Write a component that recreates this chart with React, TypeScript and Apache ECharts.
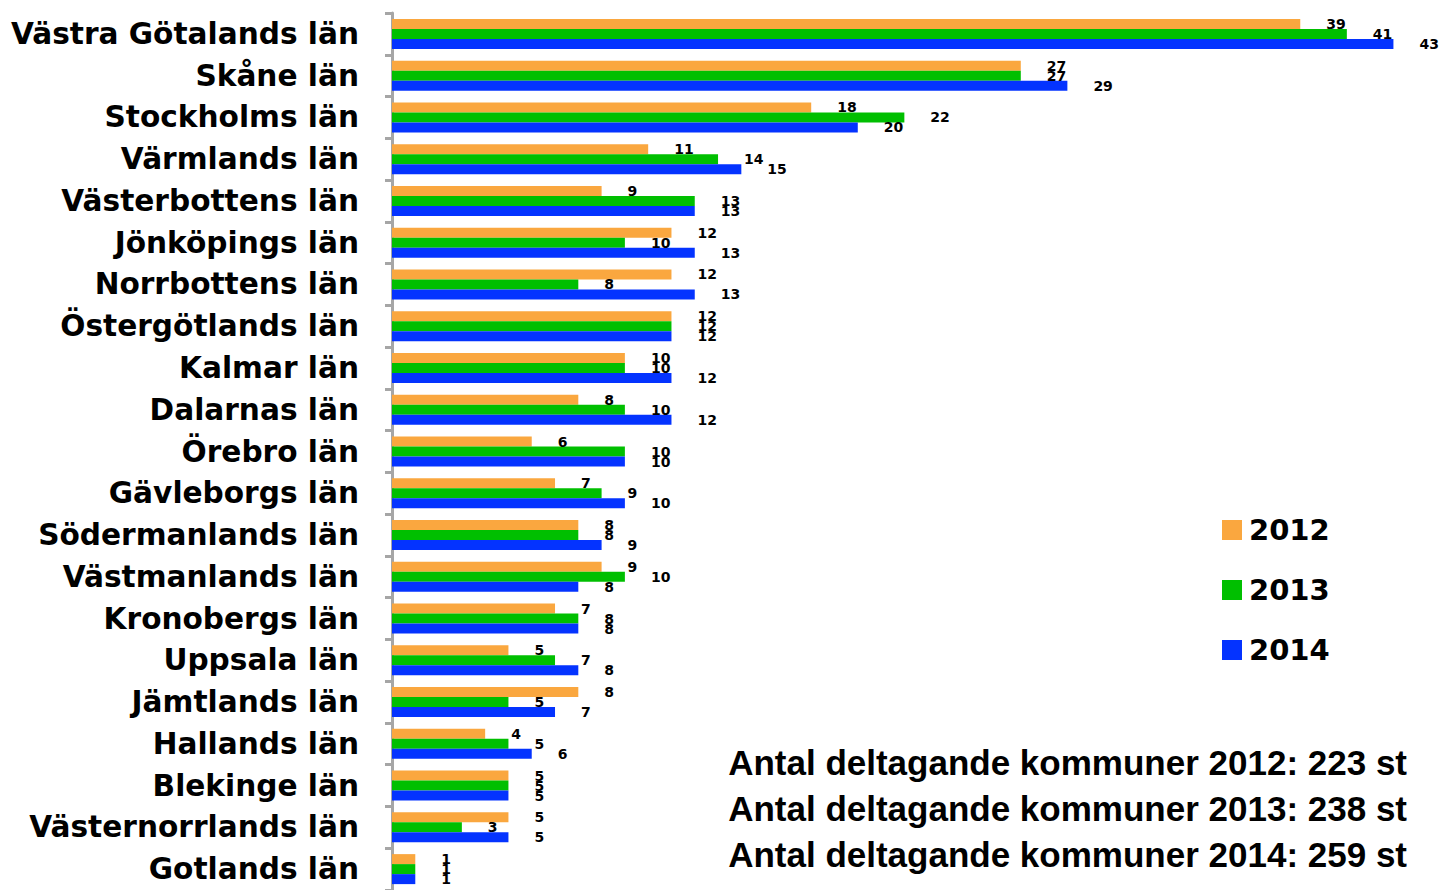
import React, { useEffect, useRef } from "react";
import * as echarts from "echarts";

const categories = [
  "Västra Götalands län",
  "Skåne län",
  "Stockholms län",
  "Värmlands län",
  "Västerbottens län",
  "Jönköpings län",
  "Norrbottens län",
  "Östergötlands län",
  "Kalmar län",
  "Dalarnas län",
  "Örebro län",
  "Gävleborgs län",
  "Södermanlands län",
  "Västmanlands län",
  "Kronobergs län",
  "Uppsala län",
  "Jämtlands län",
  "Hallands län",
  "Blekinge län",
  "Västernorrlands län",
  "Gotlands län",
];

const values2012 = [39, 27, 18, 11, 9, 12, 12, 12, 10, 8, 6, 7, 8, 9, 7, 5, 8, 4, 5, 5, 1];
const values2013 = [41, 27, 22, 14, 13, 10, 8, 12, 10, 10, 10, 9, 8, 10, 8, 7, 5, 5, 5, 3, 1];
const values2014 = [43, 29, 20, 15, 13, 13, 13, 12, 12, 12, 10, 10, 9, 8, 8, 8, 7, 6, 5, 5, 1];

const seriesNames = ["2012", "2013", "2014"];
const seriesColors = ["#FAA73F", "#00BF00", "#0433FF"];

const footerLines = [
  "Antal deltagande kommuner 2012: 223 st",
  "Antal deltagande kommuner 2013: 238 st",
  "Antal deltagande kommuner 2014: 259 st",
];

export default function App() {
  const ref = useRef<HTMLDivElement>(null);

  useEffect(() => {
    if (!ref.current) return;
    const chart = echarts.init(ref.current, undefined, { renderer: "svg" });
    const allValues = [values2012, values2013, values2014];
    chart.setOption({
      animation: false,
      backgroundColor: "#ffffff",
      grid: { left: 392, top: 13, width: 1048, height: 879, containLabel: false },
      legend: {
        orient: "vertical",
        left: 1217,
        top: 510,
        itemWidth: 20,
        itemHeight: 20,
        itemGap: 30,
        icon: "rect",
        data: seriesNames,
        textStyle: {
          fontFamily: "DejaVu Sans",
          fontWeight: "bold",
          fontSize: 29,
          lineHeight: 30,
          color: "#000",
          padding: [0, 0, 0, 2],
        },
      },
      xAxis: {
        type: "value",
        min: 0,
        max: 45,
        show: false,
        splitLine: { show: false },
      },
      yAxis: {
        type: "category",
        inverse: true,
        data: categories,
        axisLine: { show: true, lineStyle: { color: "#A6A6A6", width: 3 } },
        axisTick: { show: true, length: 7, lineStyle: { color: "#A6A6A6", width: 3 } },
        axisLabel: {
          interval: 0,
          margin: 33,
          fontFamily: "DejaVu Sans",
          fontWeight: "bold",
          fontSize: 29.6,
          color: "#000",
        },
        splitLine: { show: false },
      },
      series: seriesNames.map((name, i) => ({
        name,
        type: "bar",
        data: allValues[i],
        barWidth: 10,
        barGap: "0%",
        itemStyle: { color: seriesColors[i] },
        label: {
          show: true,
          position: "right",
          distance: 26,
          fontFamily: "DejaVu Sans",
          fontWeight: "bold",
          fontSize: 14,
          color: "#000",
        },
      })),
      graphic: footerLines.map((t, i) => ({
        type: "text",
        right: 41,
        top: 745 + i * 46,
        style: {
          text: t,
          fontFamily: "Liberation Sans",
          fontWeight: "bold",
          fontSize: 35,
          fill: "#000",
        },
      })),
    });
    return () => chart.dispose();
  }, []);

  return (
    <div
      ref={ref}
      style={{ position: "fixed", left: 0, top: 0, width: 1448, height: 890 }}
    />
  );
}
